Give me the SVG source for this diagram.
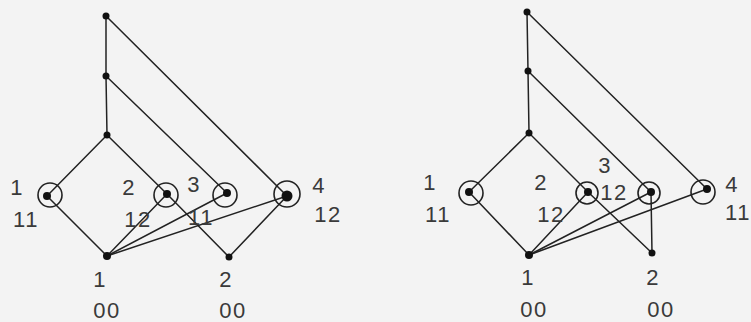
<svg xmlns="http://www.w3.org/2000/svg" width="751" height="322" viewBox="0 0 751 322">
<style>
.e{stroke:#222;stroke-width:1.5;fill:none;stroke-linecap:round}
.d{fill:#111}
.r{fill:none;stroke:#222;stroke-width:1.6}
.t{font-family:"Liberation Sans",Arial,sans-serif;font-size:22px;fill:#3a3a3a;text-anchor:middle;letter-spacing:1.5px}
</style>
<rect width="751" height="322" fill="#f3f3f3"/>
<g id="connectors">
<line class="e" x1="106" y1="16" x2="106" y2="76"/>
<line class="e" x1="106" y1="16" x2="287" y2="196"/>
<line class="e" x1="106" y1="76" x2="107" y2="135"/>
<line class="e" x1="106" y1="76" x2="227" y2="193"/>
<line class="e" x1="107" y1="135" x2="47" y2="196"/>
<line class="e" x1="107" y1="135" x2="167" y2="194"/>
<line class="e" x1="167" y1="194" x2="229" y2="257"/>
<line class="e" x1="47" y1="196" x2="107" y2="256"/>
<line class="e" x1="107" y1="256" x2="167" y2="194"/>
<line class="e" x1="107" y1="256" x2="227" y2="193"/>
<line class="e" x1="107" y1="256" x2="287" y2="196"/>
<line class="e" x1="287" y1="196" x2="229" y2="257"/>
<line class="e" x1="527" y1="12" x2="528" y2="71"/>
<line class="e" x1="527" y1="12" x2="707" y2="189"/>
<line class="e" x1="528" y1="71" x2="529" y2="133"/>
<line class="e" x1="528" y1="71" x2="651" y2="192"/>
<line class="e" x1="529" y1="133" x2="469" y2="192"/>
<line class="e" x1="529" y1="133" x2="588" y2="192"/>
<line class="e" x1="588" y1="192" x2="652" y2="253"/>
<line class="e" x1="469" y1="192" x2="529" y2="255"/>
<line class="e" x1="529" y1="255" x2="588" y2="192"/>
<line class="e" x1="529" y1="255" x2="651" y2="192"/>
<line class="e" x1="529" y1="255" x2="707" y2="189"/>
<line class="e" x1="651" y1="192" x2="652" y2="253"/>
</g>
<g id="L-top"><circle class="d" cx="106" cy="16" r="3.5"/></g>
<g id="L-mid"><circle class="d" cx="106" cy="76" r="3.5"/></g>
<g id="L-low"><circle class="d" cx="107" cy="135" r="3.5"/></g>
<g id="L-c1"><circle class="r" cx="50" cy="195" r="12"/><circle class="d" cx="47" cy="196" r="4"/><text class="t" x="17" y="195">1</text><text class="t" x="26" y="227">11</text></g>
<g id="L-c2"><circle class="r" cx="166" cy="195" r="12"/><circle class="d" cx="167" cy="194" r="4"/><text class="t" x="129" y="195">2</text><text class="t" x="138" y="227">12</text></g>
<g id="L-c3"><circle class="r" cx="225" cy="195" r="12"/><circle class="d" cx="227" cy="193" r="4"/><text class="t" x="194" y="192">3</text><text class="t" x="201" y="225">11</text></g>
<g id="L-c4"><circle class="r" cx="287" cy="194" r="13"/><circle class="d" cx="287" cy="196" r="5.5"/><text class="t" x="319" y="193">4</text><text class="t" x="328" y="222">12</text></g>
<g id="L-b1"><circle class="d" cx="107" cy="256" r="4"/><text class="t" x="100" y="287">1</text><text class="t" x="107" y="318">00</text></g>
<g id="L-b2"><circle class="d" cx="229" cy="257" r="3.5"/><text class="t" x="226" y="287">2</text><text class="t" x="233" y="318">00</text></g>
<g id="R-top"><circle class="d" cx="527" cy="12" r="3.5"/></g>
<g id="R-mid"><circle class="d" cx="528" cy="71" r="3.5"/></g>
<g id="R-low"><circle class="d" cx="529" cy="133" r="3.5"/></g>
<g id="R-c1"><circle class="r" cx="471" cy="193" r="12"/><circle class="d" cx="469" cy="192" r="4"/><text class="t" x="430" y="190">1</text><text class="t" x="438" y="222">11</text></g>
<g id="R-c2"><circle class="r" cx="587" cy="193" r="11"/><circle class="d" cx="588" cy="192" r="4"/><text class="t" x="541" y="190">2</text><text class="t" x="551" y="222">12</text></g>
<g id="R-c3"><circle class="r" cx="649" cy="193" r="11"/><circle class="d" cx="651" cy="192" r="4"/><text class="t" x="605" y="173">3</text><text class="t" x="614" y="200">12</text></g>
<g id="R-c4"><circle class="r" cx="703" cy="192" r="12"/><circle class="d" cx="707" cy="189" r="4"/><text class="t" x="732" y="192">4</text><text class="t" x="738" y="220">11</text></g>
<g id="R-b1"><circle class="d" cx="529" cy="255" r="4"/><text class="t" x="528" y="285">1</text><text class="t" x="534" y="317">00</text></g>
<g id="R-b2"><circle class="d" cx="652" cy="253" r="3.5"/><text class="t" x="653" y="285">2</text><text class="t" x="661" y="317">00</text></g>
</svg>
